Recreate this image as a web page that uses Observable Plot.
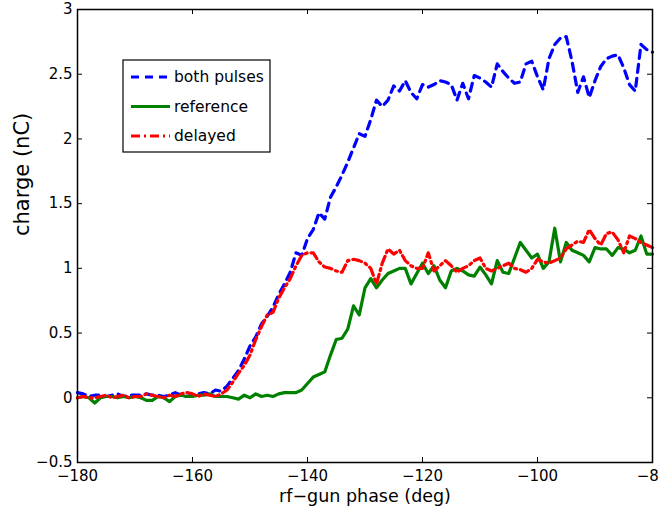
<!DOCTYPE html>
<html><head><meta charset="utf-8">
<script src="https://cdn.jsdelivr.net/npm/d3@7"></script>
<script src="https://cdn.jsdelivr.net/npm/@observablehq/plot@0.6"></script>
<style>body{margin:0;background:#fff;} svg{display:block;}</style>
</head><body><div id="chart"></div>
<script>
// phase sampling grid (deg)
const phase = d3.range(-180, -79, 1);

const bothPulses = [
 0.04,0.03,0.01,0.02,0.02,0.01,0.02,0.03,0.01,0.02,
 0.02,0.02,0.03,0.02,0.02,0.01,0.02,0.04,0.02,0.01,
 0.02,0.03,0.04,0.03,0.06,0.05,0.09,0.15,0.21,0.30,
 0.40,0.47,0.57,0.63,0.70,0.80,0.88,0.97,1.12,1.10,
 1.23,1.30,1.43,1.38,1.55,1.63,1.72,1.82,1.93,2.04,
 2.02,2.15,2.30,2.25,2.30,2.41,2.37,2.45,2.36,2.31,
 2.42,2.40,2.42,2.45,2.44,2.42,2.30,2.43,2.31,2.49,
 2.47,2.44,2.40,2.58,2.52,2.47,2.43,2.44,2.58,2.60,
 2.48,2.38,2.62,2.73,2.78,2.79,2.60,2.36,2.48,2.32,
 2.45,2.56,2.62,2.64,2.65,2.55,2.42,2.37,2.73,2.69,
 2.67];

const reference = [
 0.00,0.01,0.00,-0.04,0.00,0.01,0.01,0.00,0.01,0.00,
 0.01,0.00,-0.02,-0.02,0.01,0.00,-0.03,0.01,0.02,0.01,
 0.01,0.02,0.02,0.03,0.01,0.01,0.01,0.00,-0.01,0.02,
 0.00,0.03,0.01,0.02,0.01,0.03,0.04,0.04,0.04,0.06,
 0.11,0.16,0.18,0.20,0.33,0.45,0.46,0.53,0.71,0.64,
 0.85,0.92,0.85,0.91,0.96,0.98,1.00,1.00,0.88,0.96,
 1.04,0.96,1.02,0.91,0.85,0.98,1.00,0.98,0.95,0.94,
 1.01,0.95,0.88,1.06,0.97,0.96,1.08,1.20,1.14,1.08,
 1.11,1.00,1.05,1.31,1.05,1.20,1.14,1.12,1.10,1.05,
 1.16,1.15,1.15,1.10,1.16,1.15,1.12,1.14,1.25,1.11,
 1.11];

const delayed = [
 0.00,0.01,0.00,0.00,0.01,0.02,0.00,0.01,0.02,0.00,
 0.01,0.01,0.03,0.02,0.01,0.00,0.02,0.01,0.03,0.04,
 0.03,0.01,0.03,0.02,0.01,0.03,0.06,0.12,0.19,0.25,
 0.33,0.45,0.55,0.64,0.66,0.77,0.85,0.92,1.02,1.10,
 1.12,1.12,1.05,1.01,1.00,0.98,0.97,1.06,1.07,1.06,
 1.04,1.00,0.88,1.04,1.15,1.11,1.14,1.06,1.02,1.00,
 1.00,1.12,0.98,1.02,1.06,1.02,0.97,1.00,1.02,1.06,
 1.08,1.00,0.98,1.00,1.02,1.04,1.00,0.99,0.97,1.00,
 1.07,1.05,1.04,1.06,1.08,1.15,1.18,1.21,1.20,1.30,
 1.23,1.18,1.27,1.28,1.22,1.12,1.25,1.23,1.20,1.18,
 1.16];

const seriesNames = ["both pulses", "reference", "delayed"];
const xTicks = [-180, -160, -140, -120, -100, -80];
const yTicks = [-0.5, 0, 0.5, 1, 1.5, 2, 2.5, 3];
const xLabel = "rf\u2212gun phase (deg)";
const yLabel = "charge (nC)";

// styles
const seriesColors = ["#0000ff", "#008000", "#ff0000"];
const seriesDash = ["8,6", null, "9,4,2,4"];
const W = 658, H = 512, mL = 77, mR = 6, mT = 9, mB = 50;
const innerW = W - mL - mR, innerH = H - mT - mB;
const tickLen = 5;
const font = "'DejaVu Sans', sans-serif";
const fmt = d3.format("~g");

const seriesValues = [bothPulses, reference, delayed];
const rows = [];
seriesValues.forEach((arr, i) => arr.forEach((v, j) => rows.push({series: seriesNames[i], x: phase[j], y: v})));

const lineMarks = seriesNames.map((name, i) =>
  Plot.line(rows.filter(d => d.series === name), {
    x: "x", y: "y", stroke: seriesColors[i], strokeWidth: 3.2,
    strokeDasharray: seriesDash[i] || undefined, strokeLinejoin: "round"
  }));

const plot = Plot.plot({
  width: W, height: H,
  marginLeft: mL, marginRight: mR, marginTop: mT, marginBottom: mB,
  style: {fontFamily: font, fontSize: "15px", background: "white", color: "black"},
  x: {domain: [-180, -80], ticks: xTicks},
  y: {domain: [-0.5, 3], ticks: yTicks},
  marks: [
    Plot.axisX(xTicks, {anchor: "bottom", tickSize: 0, tickPadding: 8, label: null, fontSize: 15, tickFormat: fmt}),
    Plot.axisY(yTicks, {anchor: "left", tickSize: 0, tickPadding: 5, label: null, fontSize: 15, tickFormat: fmt}),
    Plot.ruleX(xTicks, {x: d => d, insetTop: innerH - tickLen, stroke: "black"}),
    Plot.ruleX(xTicks, {x: d => d, insetBottom: innerH - tickLen, stroke: "black"}),
    Plot.ruleY(yTicks, {y: d => d, insetRight: innerW - tickLen, stroke: "black"}),
    Plot.ruleY(yTicks, {y: d => d, insetLeft: innerW - tickLen, stroke: "black"}),
    ...lineMarks,
    Plot.frame({stroke: "black", strokeWidth: 1.5}),
    Plot.text([xLabel], {frameAnchor: "bottom", dy: 39, fontSize: 17.5, fill: "black"}),
    Plot.text([yLabel], {frameAnchor: "left", dx: -55, rotate: -90, fontSize: 21, fill: "black"})
  ]
});
document.getElementById("chart").appendChild(plot);

// legend box (inside plot area, top-left)
const svg = d3.select(plot);
const lg = svg.append("g").attr("font-family", font).attr("font-size", 15.5).attr("text-anchor", "start");
lg.append("rect").attr("x", 123).attr("y", 60).attr("width", 147).attr("height", 92)
  .attr("fill", "white").attr("stroke", "black").attr("stroke-width", 1.2);
seriesNames.forEach((name, i) => {
  const cy = 77 + i * 29.5;
  lg.append("line").attr("x1", 131).attr("x2", 170).attr("y1", cy).attr("y2", cy)
    .attr("stroke", seriesColors[i]).attr("stroke-width", 3.2)
    .attr("stroke-dasharray", seriesDash[i] || null);
  lg.append("text").attr("x", 174).attr("y", cy).attr("dy", "0.35em")
    .attr("text-anchor", "start").attr("fill", "black").text(name);
});
</script>
</body></html>
